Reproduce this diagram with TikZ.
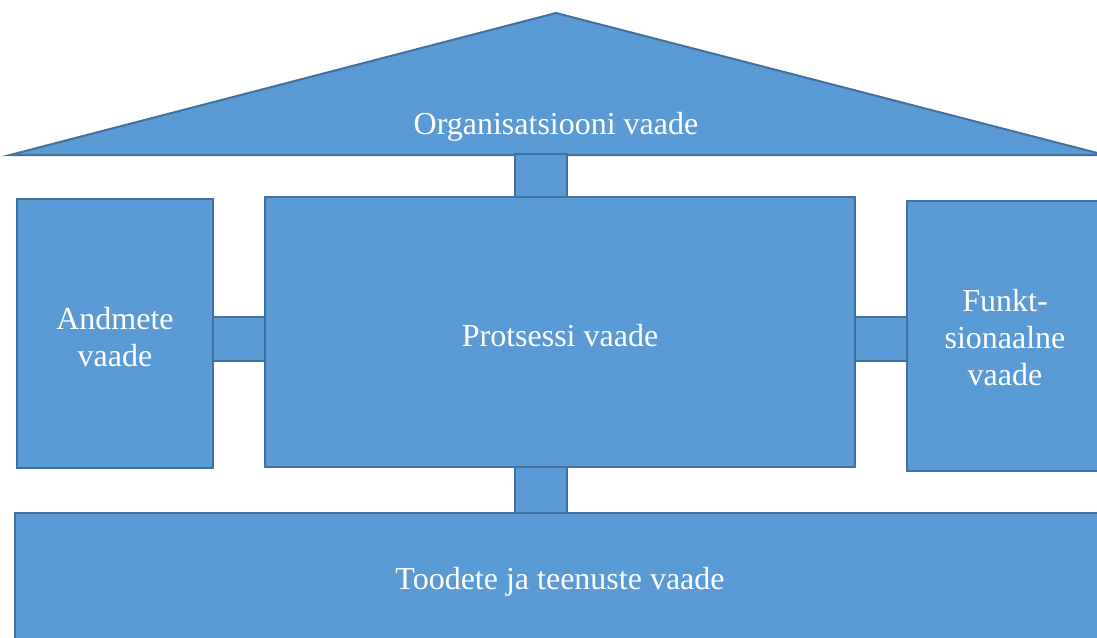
\documentclass[tikz,border=0pt]{standalone}
\usepackage{fontspec}
\setmainfont{Liberation Serif}
\definecolor{boxfill}{HTML}{5B9BD5}
\definecolor{boxline}{HTML}{41719C}
\begin{document}
\begin{tikzpicture}[x=1pt,y=-1pt,
  view/.style={draw=boxline, fill=boxfill, line width=2pt, rectangle, inner sep=0pt},
  link/.style={draw=boxline, fill=boxfill, line width=2pt, rectangle, inner sep=0pt},
  label text/.style={text=white, align=center, inner sep=0pt, font=\fontsize{32}{37}\selectfont}]
\useasboundingbox (0,0) rectangle (1097,637);
\clip (0,0) rectangle (1097,637);
% roof
\draw[draw=boxline, fill=boxfill, line width=2pt, line join=miter]
  (10,155) -- (556,13) -- (1105,155) -- cycle;
\node[label text] (org) at (556,127) {Organisatsiooni vaade};
% connecting squares
\node[link, minimum width=52pt, minimum height=45pt] (ltop) at (541,176) {};
\node[link, minimum width=52pt, minimum height=46pt] (lbot) at (541,490) {};
\node[link, minimum width=52pt, minimum height=44pt] (lleft) at (239,339) {};
\node[link, minimum width=52pt, minimum height=44pt] (lright) at (881,339) {};
% views
\node[view, minimum width=196pt, minimum height=269pt] (data) at (115,333.5) {};
\node[view, minimum width=590pt, minimum height=270pt] (proc) at (560,332) {};
\node[view, minimum width=196pt, minimum height=270pt] (func) at (1005,336) {};
\node[view, minimum width=1100pt, minimum height=140pt] (prod) at (565,583) {};
% view names
\node[label text] (datatext) at (115,337) {Andmete\\vaade};
\node[label text] (proctext) at (560,336) {Protsessi vaade};
\node[label text] (functext) at (1005,338) {Funkt-\\sionaalne\\vaade};
\node[label text] (prodtext) at (560,582) {Toodete ja teenuste vaade};
\end{tikzpicture}
\end{document}
